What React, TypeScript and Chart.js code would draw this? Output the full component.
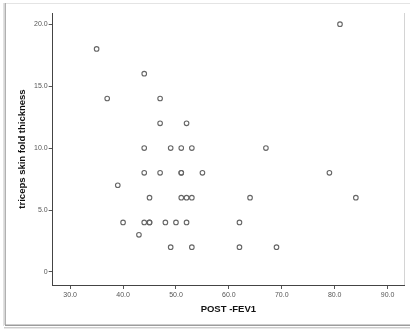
import React, { useEffect, useRef } from 'react';
import { Chart, registerables } from 'chart.js';

Chart.register(...registerables);

// POST -FEV1 (x) and triceps skin fold thickness (y), one entry per case
const postFev1 = [
  81, 35, 44, 37, 47, 47, 52,
  44, 49, 51, 53, 67,
  44, 47, 51, 51, 55, 79,
  39,
  45, 51, 52, 53, 64, 84,
  40, 44, 45, 45, 48, 50, 52, 62,
  43,
  49, 53, 62, 69,
];
const tricepsSkinFold = [
  20, 18, 16, 14, 14, 12, 12,
  10, 10, 10, 10, 10,
  8, 8, 8, 8, 8, 8,
  7,
  6, 6, 6, 6, 6, 6,
  4, 4, 4, 4, 4, 4, 4, 4,
  3,
  2, 2, 2, 2,
];
const xTicks = [30, 40, 50, 60, 70, 80, 90];
const yTicks = [0, 5, 10, 15, 20];
const xTitle = 'POST -FEV1';
const yTitle = 'triceps skin fold thickness';

const framePlugin = {
  id: 'frame',
  beforeDraw(chart: any) {
    const { ctx, width, height } = chart;
    ctx.save();
    ctx.fillStyle = '#ffffff';
    ctx.fillRect(0, 0, width, height);
    // top line
    ctx.strokeStyle = '#e4e4e4';
    ctx.lineWidth = 1;
    ctx.beginPath();
    ctx.moveTo(5, 3.5);
    ctx.lineTo(width, 3.5);
    ctx.stroke();
    // left line with faint shadow
    ctx.strokeStyle = '#e2e2e2';
    ctx.beginPath();
    ctx.moveTo(3.5, 3);
    ctx.lineTo(3.5, 326);
    ctx.stroke();
    ctx.strokeStyle = '#b0b0b0';
    ctx.lineWidth = 1.5;
    ctx.beginPath();
    ctx.moveTo(5.25, 3);
    ctx.lineTo(5.25, 325);
    ctx.stroke();
    // bottom line with shadow
    ctx.strokeStyle = '#9c9c9c';
    ctx.lineWidth = 1.5;
    ctx.beginPath();
    ctx.moveTo(5, 325.25);
    ctx.lineTo(width, 325.25);
    ctx.stroke();
    ctx.lineWidth = 1;
    ctx.strokeStyle = '#cdcdcd';
    ctx.beginPath();
    ctx.moveTo(4, 327.5);
    ctx.lineTo(width, 327.5);
    ctx.stroke();
    ctx.strokeStyle = '#e8e8e8';
    ctx.beginPath();
    ctx.moveTo(4, 328.5);
    ctx.lineTo(width, 328.5);
    ctx.stroke();
    ctx.restore();
  },
  afterDraw(chart: any) {
    const { ctx, chartArea } = chart;
    ctx.save();
    ctx.strokeStyle = '#d4d4d4';
    ctx.lineWidth = 1;
    ctx.beginPath();
    ctx.moveTo(Math.round(chartArea.right) + 0.5, chartArea.top);
    ctx.lineTo(Math.round(chartArea.right) + 0.5, chartArea.bottom);
    ctx.stroke();
    ctx.restore();
  },
};

export default function App() {
  const canvasRef = useRef<HTMLCanvasElement | null>(null);

  useEffect(() => {
    if (!canvasRef.current) return;
    const points = postFev1.map((x, i) => ({ x, y: tricepsSkinFold[i] }));
    const fmt = (v: number) => (v === 0 ? '0' : v.toFixed(1));
    const chart = new Chart(canvasRef.current, {
      type: 'scatter',
      data: {
        datasets: [
          {
            data: points,
            pointStyle: 'circle',
            pointRadius: 2.3,
            pointBorderWidth: 1.1,
            pointBorderColor: '#666666',
            pointBackgroundColor: 'rgba(0,0,0,0)',
          },
        ],
      },
      options: {
        animation: false,
        responsive: false,
        devicePixelRatio: 1,
        layout: { padding: { left: 0, top: 13, right: 6, bottom: 0 } },
        plugins: {
          legend: { display: false },
          tooltip: { enabled: false },
        },
        scales: {
          x: {
            type: 'linear',
            min: 26.7,
            max: 93.1,
            afterBuildTicks: (s: any) => {
              s.ticks = xTicks.map((v) => ({ value: v }));
            },
            afterFit: (s: any) => {
              s.height = 45;
            },
            ticks: {
              callback: (v: any) => fmt(Number(v)),
              font: { family: 'Liberation Sans, Arial, sans-serif', size: 7 },
              color: '#555555',
              padding: 2,
              maxRotation: 0,
              autoSkip: false,
            },
            grid: {
              drawOnChartArea: false,
              drawTicks: true,
              tickLength: 4,
              color: '#555555',
            },
            border: { display: true, color: '#444444', width: 1 },
            title: {
              display: true,
              text: xTitle,
              color: '#111111',
              font: { family: 'Liberation Sans, Arial, sans-serif', size: 9.5, weight: 'bold' },
              padding: { top: 0, bottom: 15 },
            },
          },
          y: {
            type: 'linear',
            min: -1.05,
            max: 20.9,
            afterBuildTicks: (s: any) => {
              s.ticks = yTicks.map((v) => ({ value: v }));
            },
            afterFit: (s: any) => {
              s.width = 52.7;
            },
            ticks: {
              callback: (v: any) => fmt(Number(v)),
              font: { family: 'Liberation Sans, Arial, sans-serif', size: 7 },
              color: '#555555',
              padding: 1,
              autoSkip: false,
            },
            grid: {
              drawOnChartArea: false,
              drawTicks: true,
              tickLength: 4,
              color: '#555555',
            },
            border: { display: true, color: '#444444', width: 1 },
            title: {
              display: true,
              text: yTitle,
              color: '#111111',
              font: { family: 'Liberation Sans, Arial, sans-serif', size: 9.5, weight: 'bold' },
              padding: { top: 17, bottom: 0 },
            },
          },
        },
      },
      plugins: [framePlugin],
    } as any);
    return () => chart.destroy();
  }, []);

  return (
    <div style={{ position: 'fixed', left: 0, top: 0, width: 410, height: 330, background: '#fff' }}>
      <canvas ref={canvasRef} width={410} height={330} style={{ display: 'block', width: 410, height: 330 }} />
    </div>
  );
}
